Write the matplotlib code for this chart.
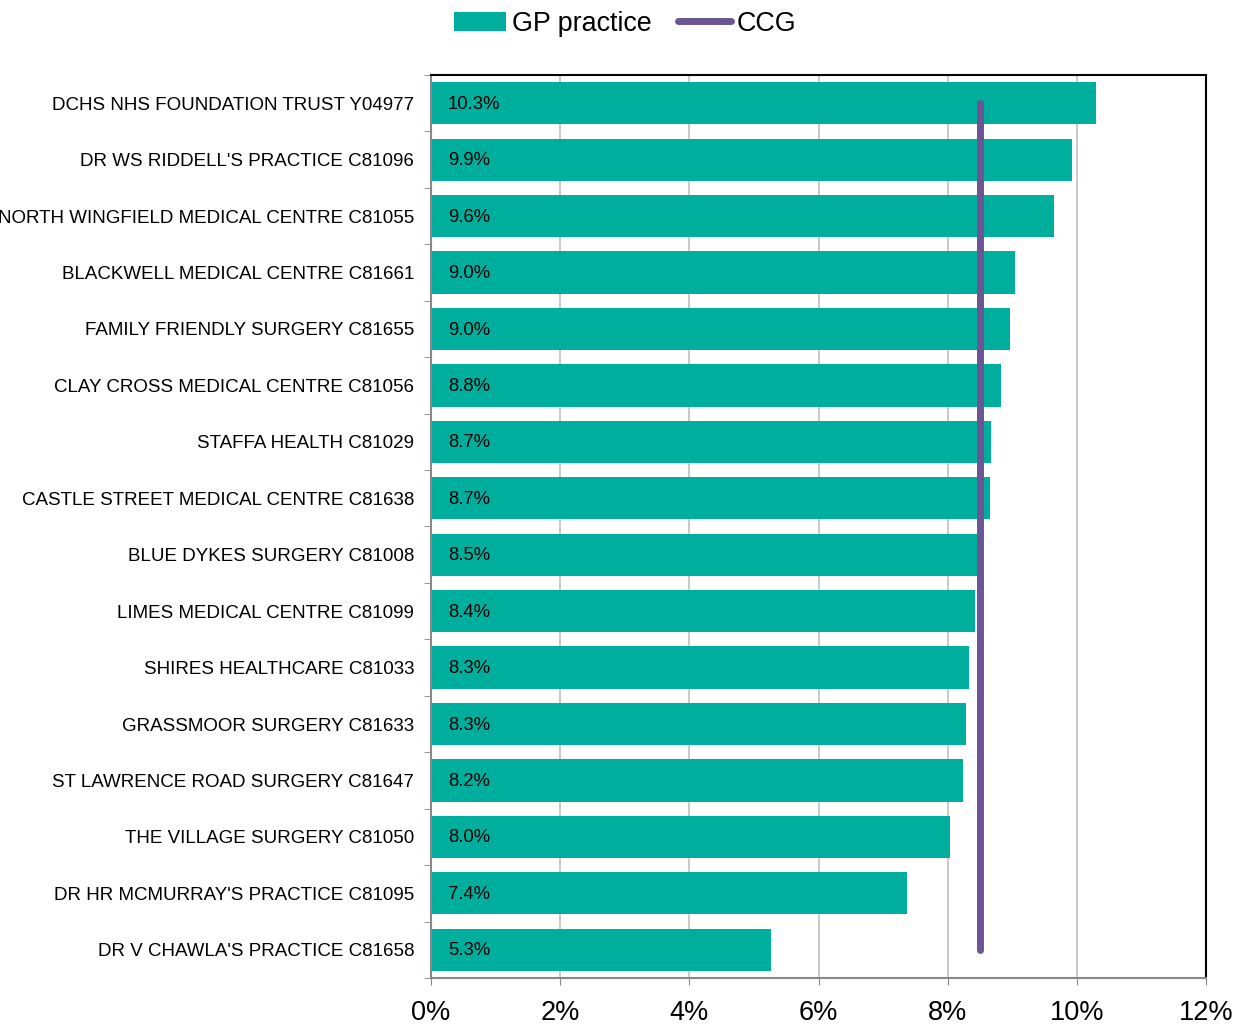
import matplotlib
matplotlib.use("Agg")
import matplotlib.pyplot as plt
from matplotlib.patches import Patch
from matplotlib.lines import Line2D
from matplotlib.ticker import FuncFormatter, FixedLocator

plt.rcParams['font.family'] = ['Liberation Sans', 'DejaVu Sans']

practices = [
    "DCHS NHS FOUNDATION TRUST Y04977",
    "DR WS RIDDELL'S PRACTICE C81096",
    "NORTH WINGFIELD MEDICAL CENTRE C81055",
    "BLACKWELL MEDICAL CENTRE C81661",
    "FAMILY FRIENDLY SURGERY C81655",
    "CLAY CROSS MEDICAL CENTRE C81056",
    "STAFFA HEALTH C81029",
    "CASTLE STREET MEDICAL CENTRE C81638",
    "BLUE DYKES SURGERY C81008",
    "LIMES MEDICAL CENTRE C81099",
    "SHIRES HEALTHCARE C81033",
    "GRASSMOOR SURGERY C81633",
    "ST LAWRENCE ROAD SURGERY C81647",
    "THE VILLAGE SURGERY C81050",
    "DR HR MCMURRAY'S PRACTICE C81095",
    "DR V CHAWLA'S PRACTICE C81658",
]
gp_values = [10.3, 9.92, 9.64, 9.04, 8.96, 8.82, 8.67, 8.66, 8.47, 8.42,
             8.33, 8.28, 8.23, 8.03, 7.37, 5.27]
ccg_value = 8.5
x_ticks = [0, 2, 4, 6, 8, 10, 12]

teal = "#00AE9D"
purple = "#6B5592"

fig = plt.figure(figsize=(12.4, 10.25), dpi=100)
ax = fig.add_axes([0.3476, 0.0459, 0.625, 0.8809])

y = list(range(len(practices)))
ax.barh(y, gp_values, height=0.75, color=teal, zorder=2)
ax.plot([ccg_value, ccg_value], [0, len(practices) - 1], color=purple,
        lw=5, solid_capstyle='round', zorder=3)

for yi, v in zip(y, gp_values):
    ax.text(0.26, yi + 0.02, f"{v:.1f}%", va='center', ha='left', fontsize=13.3,
            color='black', zorder=4)

ax.set_xlim(0, 12)
ax.set_ylim(len(practices) - 0.5, -0.5)
ax.xaxis.set_major_locator(FixedLocator(x_ticks))
ax.xaxis.set_major_formatter(FuncFormatter(lambda v, p: f"{v:.0f}%"))
ax.set_yticks(y)
ax.set_yticklabels(practices, fontsize=13.5)
ax.yaxis.set_minor_locator(FixedLocator([i - 0.5 for i in range(len(practices) + 1)]))
ax.tick_params(axis='y', which='major', length=0, pad=12)
ax.tick_params(axis='y', which='minor', length=5, color='#888888', direction='out')
ax.tick_params(axis='x', which='major', length=5, color='#888888', labelsize=19.5, pad=11)

ax.grid(axis='x', color='#C0C0C0', lw=1.2, zorder=0)
ax.set_axisbelow(True)
for s in ['left', 'bottom']:
    ax.spines[s].set_color('#888888')
    ax.spines[s].set_linewidth(1.5)
for s in ['top', 'right']:
    ax.spines[s].set_color('black')
    ax.spines[s].set_linewidth(1.5)

handles = [Patch(facecolor=teal, edgecolor='none'),
           Line2D([0], [0], color=purple, lw=5, solid_capstyle='round')]
fig.legend(handles, ["GP practice", "CCG"], loc='upper center',
           bbox_to_anchor=(0.504, 1.013), ncol=2, frameon=False, fontsize=19.4,
           handlelength=1.95, handletextpad=0.2, columnspacing=1.0)

fig.savefig("out.png", dpi=100)
